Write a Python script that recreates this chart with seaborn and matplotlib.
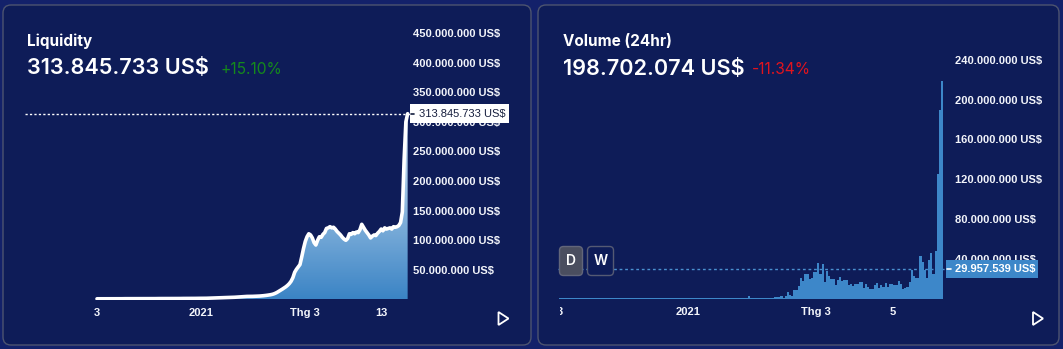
import numpy as np
import pandas as pd
import matplotlib
matplotlib.use("Agg")
import matplotlib.pyplot as plt
import matplotlib.patches as mpatches
import matplotlib.lines as mlines
import matplotlib.transforms as mtransforms
from matplotlib.colors import LinearSegmentedColormap
import seaborn as sns

# ---------------------------------------------------------------- data
start_date = "2020-11-03"

# daily pool liquidity, millions of US$
liquidity_musd = [
    1.2, 1.2, 1.2, 1.2, 1.2, 1.2, 1.3, 1.3, 1.3, 1.3,
    1.3, 1.3, 1.3, 1.3, 1.3, 1.4, 1.4, 1.4, 1.4, 1.4,
    1.4, 1.4, 1.4, 1.4, 1.5, 1.5, 1.5, 1.5, 1.5, 1.5,
    1.5, 1.5, 1.5, 1.5, 1.6, 1.6, 1.6, 1.6, 1.6, 1.6,
    1.6, 1.6, 1.7, 1.7, 1.7, 1.7, 1.7, 1.7, 1.8, 1.8,
    1.8, 1.8, 1.8, 1.9, 1.9, 1.9, 1.9, 2.0, 2.0, 2.0,
    2.0, 2.1, 2.1, 2.2, 2.2, 2.3, 2.4, 2.5, 2.6, 2.7,
    2.8, 2.9, 3.0, 3.1, 3.2, 3.3, 3.4, 3.6, 3.8, 4.0,
    4.2, 4.4, 4.6, 4.8, 5.0, 5.2, 5.2, 5.3, 5.3, 5.4,
    5.5, 5.6, 5.8, 6.0, 6.3, 6.6, 7.0, 7.4, 7.9, 8.5,
    9.3, 10.5, 12.0, 13.8, 15.8, 17.5, 19.5, 21.5, 24.0, 27.0,
    31.0, 37.0, 46.0, 51.0, 55.0, 59.0, 72.0, 86.0, 98.0, 106.0,
    111.0, 109.0, 104.0, 96.0, 92.0, 100.0, 106.0, 105.0, 110.0, 113.0,
    120.0, 121.0, 123.0, 121.0, 122.0, 119.0, 115.0, 112.0, 109.0, 105.0,
    102.0, 100.0, 103.0, 111.0, 110.0, 113.0, 111.0, 114.0, 113.0, 118.0,
    127.0, 122.0, 117.0, 113.0, 109.0, 104.0, 107.0, 109.0, 108.0, 112.0,
    115.0, 119.0, 116.0, 121.0, 119.0, 120.0, 121.0, 119.0, 123.0, 122.0,
    123.0, 125.0, 130.0, 148.0, 236.0, 300.0, 313.845733,
]

# daily trading volume, millions of US$
volume_musd = [
    1.0, 1.0, 1.0, 1.0, 1.0, 1.0, 1.0, 1.0, 1.0, 1.0,
    1.0, 1.0, 1.0, 1.0, 1.0, 1.0, 1.0, 1.0, 1.0, 1.0,
    1.0, 1.0, 1.0, 1.0, 1.0, 1.0, 1.0, 1.0, 1.0, 1.0,
    1.0, 1.0, 1.0, 1.0, 1.0, 1.0, 1.0, 1.0, 1.0, 1.0,
    1.0, 1.0, 1.0, 1.0, 1.0, 1.0, 1.0, 1.0, 1.0, 1.0,
    1.0, 1.0, 1.0, 1.0, 1.0, 1.0, 1.0, 1.0, 1.0, 1.0,
    1.0, 1.0, 1.0, 1.0, 1.0, 1.0, 1.0, 1.0, 1.0, 1.0,
    1.0, 1.0, 1.0, 1.0, 1.0, 1.0, 1.0, 1.3, 1.3, 1.3,
    1.0, 1.0, 1.0, 1.3, 1.3, 1.3, 1.3, 3.3, 1.3, 1.3,
    1.3, 1.0, 1.0, 1.0, 1.3, 1.3, 1.3, 1.3, 1.3, 2.0,
    2.0, 1.7, 3.3, 1.0, 3.3, 7.3, 4.0, 3.3, 9.3, 9.3,
    12.7, 21.3, 17.7, 25.3, 25.3, 20.0, 21.3, 27.3, 27.3, 36.3,
    25.3, 35.3, 17.3, 28.3, 23.3, 20.3, 20.3, 14.3, 19.3, 22.3,
    17.7, 19.3, 19.3, 14.3, 15.3, 13.3, 15.3, 15.3, 16.7, 17.3,
    11.0, 15.3, 12.0, 10.3, 10.3, 14.3, 16.3, 11.3, 14.3, 12.3,
    16.3, 12.3, 15.3, 15.3, 14.3, 14.3, 18.3, 15.3, 10.3, 11.3,
    12.3, 17.3, 29.3, 23.3, 21.3, 21.3, 43.3, 37.3, 29.3, 21.3,
    39.3, 46.3, 25.3, 48.3, 125.0, 190.0, 219.0,
]

liq_yticks_musd = [50, 100, 150, 200, 250, 300, 350, 400, 450]
vol_yticks_musd = [40, 80, 120, 160, 200, 240]
liq_xtick_dates = ["2020-11-03", "2021-01-01", "2021-03-01", "2021-04-13"]
liq_xtick_labels = ["3", "2021", "Thg 3", "13"]
vol_xtick_dates = ["2020-11-03", "2021-01-01", "2021-03-01", "2021-04-05"]
vol_xtick_labels = ["3", "2021", "Thg 3", "5"]

liq_title = "Liquidity"
liq_current_usd = 313845733
liq_change = "+15.10%"
vol_title = "Volume (24hr)"
vol_current_usd = 198702074
vol_change = "-11.34%"
vol_marker_usd = 29957539
interval_buttons = ["D", "W"]

# ---------------------------------------------------------------- style
W, H = 1063, 349
PAGE = "#13216a"
CARD = "#0e1c58"
BORDER = "#4d5470"
BAR = "#3d87c9"
GREEN = "#15891c"
RED = "#e0141e"
TITLE_FONT = ["Inter", "DejaVu Sans"]
AXIS_FONT = ["Liberation Sans", "DejaVu Sans"]

sns.set_theme(style="white")
plt.rcParams["font.family"] = ["Inter", "DejaVu Sans"]

dates = pd.date_range(start_date, periods=len(liquidity_musd), freq="D")
day = np.asarray((dates - dates[0]).days, dtype=float)
df = pd.DataFrame({"day": day, "liquidity": liquidity_musd, "volume": volume_musd})


def usd(v):
    return f"{int(round(v)):,}".replace(",", ".") + " US$"


def offsets(date_list):
    return np.asarray((pd.to_datetime(date_list) - dates[0]).days, dtype=float)


def px_axes(x0, x1, ytop, ybot):
    return [x0 / W, 1 - ybot / H, (x1 - x0) / W, (ybot - ytop) / H]


ident = mtransforms.IdentityTransform()

fig = plt.figure(figsize=(W / 100, H / 100), dpi=100, facecolor=PAGE)

# cards
for (x0, x1) in [(3, 531), (538, 1059)]:
    fig.add_artist(mpatches.FancyBboxPatch(
        (x0, H - 345), x1 - x0, 340,
        boxstyle="round,pad=0,rounding_size=8", transform=ident,
        facecolor=CARD, edgecolor=BORDER, lw=1.0, zorder=-5))


def style_axes(ax, ticks_musd, xt_dates, xt_labels, ypad):
    ax.set_facecolor("none")
    for s in ax.spines.values():
        s.set_visible(False)
    ax.grid(False)
    ax.yaxis.tick_right()
    ax.set_yticks(ticks_musd)
    ax.set_yticklabels([usd(v * 1e6) for v in ticks_musd])
    ax.set_xticks(offsets(xt_dates))
    ax.set_xticklabels(xt_labels)
    ax.tick_params(axis="y", length=0, pad=ypad, labelcolor="white")
    ax.tick_params(axis="x", length=0, pad=5.8, labelcolor="white")
    for t in ax.get_yticklabels() + ax.get_xticklabels():
        t.set_fontfamily(AXIS_FONT)
        t.set_fontsize(8)
        t.set_fontweight("bold")
        t.set_color("#f2f4fa")
    ax.set_xlabel("")
    ax.set_ylabel("")


# ---------------------------------------------------------------- liquidity
ax1 = fig.add_axes(px_axes(25, 410, 18, 299.5))
px_day1 = 1.765
x_lim1 = ((25 - 97) / px_day1, (410 - 97) / px_day1)
y_lim1 = (0, 281.5 / 0.592)

grad = np.linspace(0, 1, 256).reshape(-1, 1)
cmap = LinearSegmentedColormap.from_list("liq", ["#3b84c5", "#e6f0fa"])
im = ax1.imshow(grad, extent=[day[0], day[-1], 0, 330], origin="lower",
                aspect="auto", cmap=cmap, zorder=1, interpolation="bilinear")
area = ax1.fill_between(df["day"], df["liquidity"], 0, facecolor="none",
                        edgecolor="none")
im.set_clip_path(area.get_paths()[0], transform=ax1.transData)
sns.lineplot(data=df, x="day", y="liquidity", ax=ax1, color="white",
             lw=2.6, zorder=3, solid_joinstyle="round", solid_capstyle="round")
ax1.axhline(liq_current_usd / 1e6, color="white", lw=1.0,
            ls=(0, (1.6, 1.6)), zorder=2)
ax1.set_xlim(*x_lim1)
ax1.set_ylim(*y_lim1)
style_axes(ax1, liq_yticks_musd, liq_xtick_dates, liq_xtick_labels, 2.2)

# current value tag on the price scale
y_tag = ax1.transData.transform((0, liq_current_usd / 1e6))[1]
fig.add_artist(mpatches.Rectangle((410, y_tag - 9.5), 99, 19, transform=ident,
                                  facecolor="white", edgecolor="none", zorder=5))
fig.add_artist(mlines.Line2D([410.5, 413.5], [y_tag, y_tag], transform=ident,
                             color="#131c3e", lw=1.2, zorder=6))
fig.text(419 / W, y_tag / H, usd(liq_current_usd), va="center", ha="left",
         color="#161e3d", fontsize=8, family=AXIS_FONT, zorder=7)

# header
fig.text(27 / W, 1 - 41 / H, liq_title, color="white", fontsize=11,
         fontweight="bold", family=TITLE_FONT, va="center")
fig.text(27 / W, 1 - 68 / H, usd(liq_current_usd), color="white",
         fontsize=15.6, fontweight="semibold", family=TITLE_FONT, va="center")
fig.text(220 / W, 1 - 70 / H, liq_change, color=GREEN, fontsize=11.2,
         family=TITLE_FONT, va="center")

# ---------------------------------------------------------------- volume
ax2 = fig.add_axes(px_axes(558, 946, 40, 299))
px_day2 = 2.173
x_lim2 = ((558 - 559.8) / px_day2, (946 - 559.8) / px_day2)
y_lim2 = (0, 259 / 0.997)

sns.histplot(data=df, x="day", weights="volume", discrete=True, ax=ax2,
             color=BAR, alpha=1.0, linewidth=0, edgecolor=BAR, zorder=2)
ax2.axhline(vol_marker_usd / 1e6, color="#4a90d0", lw=1.0,
            ls=(0, (2.0, 2.0)), zorder=1)
ax2.set_xlim(*x_lim2)
ax2.set_ylim(*y_lim2)
style_axes(ax2, vol_yticks_musd, vol_xtick_dates, vol_xtick_labels, 6.5)
pane_clip = mpatches.Rectangle((560, 0), W, H, transform=ident)
for t in ax2.get_xticklabels():
    t.set_clip_path(pane_clip)
    t.set_clip_on(True)

y_tag2 = ax2.transData.transform((0, vol_marker_usd / 1e6))[1]
fig.add_artist(mpatches.Rectangle((946, y_tag2 - 9), 92, 18, transform=ident,
                                  facecolor=BAR, edgecolor="none", zorder=5))
fig.add_artist(mlines.Line2D([947, 950.5], [y_tag2, y_tag2], transform=ident,
                             color="white", lw=1.2, zorder=6))
fig.text(955 / W, y_tag2 / H, usd(vol_marker_usd), va="center", ha="left",
         color="white", fontsize=8, fontweight="bold", family=AXIS_FONT,
         zorder=7)

# interval buttons
btn_boxes = [(559.5, 582.5, "#4a4e5f", "#62667a"), (587.5, 613.5, CARD, "#555a73")]
for label, (bx0, bx1, fc, ec) in zip(interval_buttons, btn_boxes):
    fig.add_artist(mpatches.FancyBboxPatch(
        (bx0, H - 275.5), bx1 - bx0, 29, boxstyle="round,pad=0,rounding_size=4",
        transform=ident, facecolor=fc, edgecolor=ec, lw=1.0, zorder=8))
    fig.text((bx0 + bx1) / 2 / W, 1 - 261 / H, label, ha="center", va="center",
             color="white", fontsize=10, fontweight="semibold",
             family=TITLE_FONT, zorder=9)

fig.text(563 / W, 1 - 42 / H, vol_title, color="white", fontsize=11,
         fontweight="bold", family=TITLE_FONT, va="center")
fig.text(563 / W, 1 - 69 / H, usd(vol_current_usd), color="white",
         fontsize=15.6, fontweight="semibold", family=TITLE_FONT, va="center")
fig.text(752 / W, 1 - 70 / H, vol_change, color=RED, fontsize=11.2,
         family=TITLE_FONT, va="center")

# play buttons
for px in (498.5, 1033.0):
    fig.add_artist(mpatches.Polygon(
        [(px, H - 312), (px, H - 325), (px + 10, H - 318.5)], closed=True,
        transform=ident, fill=False, edgecolor="white", lw=1.3, zorder=8))

fig.savefig("out.png", dpi=100, facecolor=fig.get_facecolor())
